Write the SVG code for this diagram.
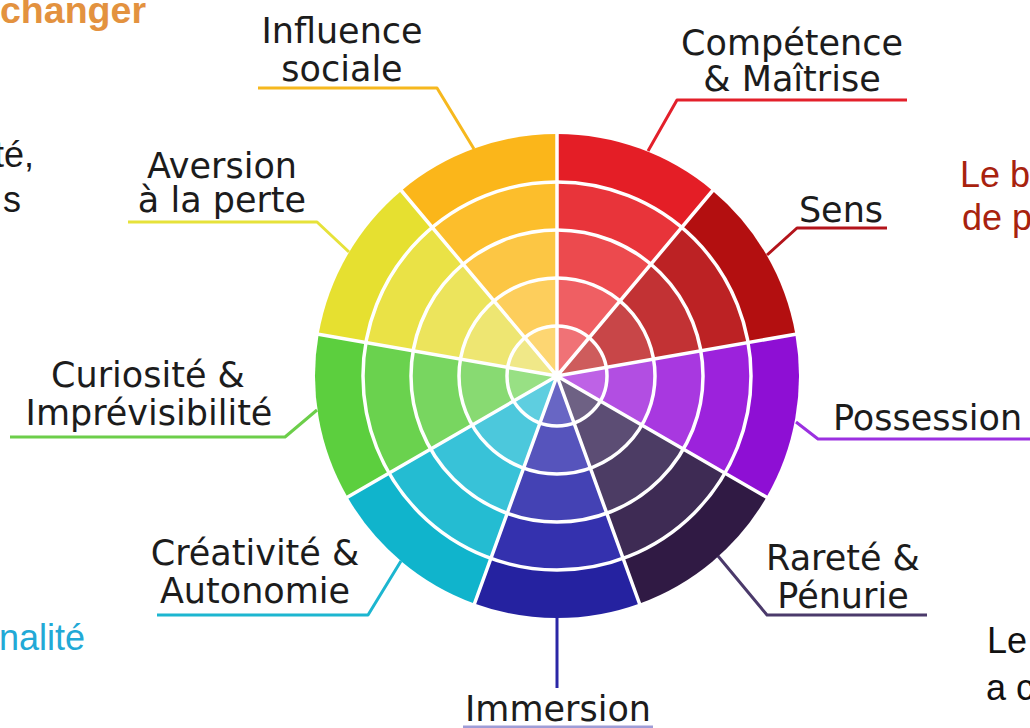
<svg xmlns="http://www.w3.org/2000/svg" width="1030" height="728" viewBox="0 0 1030 728">
<style>
.lbl{font-family:"DejaVu Sans","Liberation Sans",sans-serif;font-size:35px;fill:#1c1c1c;text-anchor:middle}
.side{font-family:"Liberation Sans",Arial,sans-serif;font-size:36px}
.con{fill:none;stroke-width:3;stroke-linejoin:round}
.sep{fill:none;stroke:#ffffff;stroke-width:3.5}
</style>
<rect width="1030" height="728" fill="#ffffff"/>

<g id="side-texts">
<text class="side" x="0" y="23" font-weight="bold" fill="#e3923f" font-size="32" textLength="146" lengthAdjust="spacingAndGlyphs">changer</text>
<text class="side" x="34" y="167" fill="#1a1a1a" text-anchor="end">té,</text>
<text class="side" x="21" y="212" fill="#1a1a1a" text-anchor="end">s</text>
<text class="side" x="-1" y="650" fill="#22a9d6" font-size="37">nalité</text>
<text class="side" x="960" y="187" fill="#a8220e">Le b</text>
<text class="side" x="962" y="230" fill="#a8220e">de p</text>
<text class="side" x="987" y="653" fill="#111111">Le</text>
<text class="side" x="986" y="700" fill="#111111">a c</text>
</g>

<g id="connectors">
<path class="con" stroke="#f6b81e" d="M258 88 H437 L474 149"/>
<path class="con" stroke="#e3202b" d="M907 100 H677 L648 151"/>
<path class="con" stroke="#b3141b" d="M887 228 H797 L767 255"/>
<path class="con" stroke="#9b30e0" d="M1032 439 H818 L796 422"/>
<path class="con" stroke="#4b3a6b" d="M927 615 H767 L718 556"/>
<path class="con" stroke="#2a26a6" d="M557 617 V688"/>
<path class="con" stroke="#2a26a6" stroke-opacity="0.45" d="M463 727 H653"/>
<path class="con" stroke="#1cb6d0" d="M157 615 H368 L401 561"/>
<path class="con" stroke="#6cce4a" d="M10 437 H285 L317 410"/>
<path class="con" stroke="#e6e23a" d="M128 222 H317 L349 252"/>
</g>

<g id="node-competence">
<path fill="#e41e26" d="M557 376 L557 134 A242 242 0 0 1 712.56 190.63 Z"/>
<path fill="#e8343a" d="M557 376 L557 182 A194 194 0 0 1 681.70 227.40 Z"/>
<path fill="#ec4a4e" d="M557 376 L557 230 A146 146 0 0 1 650.85 264.16 Z"/>
<path fill="#ef5f63" d="M557 376 L557 278 A98 98 0 0 1 620.00 300.93 Z"/>
<path fill="#f07276" d="M557 376 L557 326 A50 50 0 0 1 589.14 337.70 Z"/>
<text class="lbl" x="792" y="55">Compétence</text>
<text class="lbl" x="792" y="91">&amp; Maîtrise</text>
</g>

<g id="node-sens">
<path fill="#b30f10" d="M557 376 L712.56 190.63 A242 242 0 0 1 795.32 333.99 Z"/>
<path fill="#bc2224" d="M557 376 L681.70 227.40 A194 194 0 0 1 748.05 342.32 Z"/>
<path fill="#c23234" d="M557 376 L650.85 264.16 A146 146 0 0 1 700.78 350.65 Z"/>
<path fill="#c84648" d="M557 376 L620.00 300.93 A98 98 0 0 1 653.51 358.99 Z"/>
<path fill="#ce5c5c" d="M557 376 L589.14 337.70 A50 50 0 0 1 606.24 367.32 Z"/>
<text class="lbl" x="841" y="222">Sens</text>
</g>

<g id="node-possession">
<path fill="#8e0fd4" d="M557 376 L795.32 333.99 A242 242 0 0 1 766.57 497 Z"/>
<path fill="#9c22dc" d="M557 376 L748.05 342.32 A194 194 0 0 1 725.00 473 Z"/>
<path fill="#a838e0" d="M557 376 L700.78 350.65 A146 146 0 0 1 683.44 449 Z"/>
<path fill="#b24ee2" d="M557 376 L653.51 358.99 A98 98 0 0 1 641.87 425 Z"/>
<path fill="#be62e6" d="M557 376 L606.24 367.32 A50 50 0 0 1 600.30 401 Z"/>
<text class="lbl" x="833" y="430" style="text-anchor:start">Possession</text>
</g>

<g id="node-rarete">
<path fill="#301a44" d="M557 376 L766.57 497 A242 242 0 0 1 639.76 603.41 Z"/>
<path fill="#3e2b54" d="M557 376 L725.00 473 A194 194 0 0 1 623.35 558.30 Z"/>
<path fill="#4c3c64" d="M557 376 L683.44 449 A146 146 0 0 1 606.93 513.20 Z"/>
<path fill="#5c4d74" d="M557 376 L641.87 425 A98 98 0 0 1 590.52 468.09 Z"/>
<path fill="#6e6184" d="M557 376 L600.30 401 A50 50 0 0 1 574.10 422.99 Z"/>
<text class="lbl" x="843" y="570">Rareté &amp;</text>
<text class="lbl" x="843" y="608">Pénurie</text>
</g>

<g id="node-immersion">
<path fill="#2522a0" d="M557 376 L639.76 603.41 A242 242 0 0 1 474.24 603.41 Z"/>
<path fill="#3431ae" d="M557 376 L623.35 558.30 A194 194 0 0 1 490.65 558.30 Z"/>
<path fill="#4442b4" d="M557 376 L606.93 513.20 A146 146 0 0 1 507.07 513.20 Z"/>
<path fill="#5654bc" d="M557 376 L590.52 468.09 A98 98 0 0 1 523.48 468.09 Z"/>
<path fill="#6866c4" d="M557 376 L574.10 422.99 A50 50 0 0 1 539.90 422.99 Z"/>
<text class="lbl" x="558" y="721">Immersion</text>
</g>

<g id="node-creativite">
<path fill="#10b4cc" d="M557 376 L474.24 603.41 A242 242 0 0 1 347.43 497 Z"/>
<path fill="#24bcd2" d="M557 376 L490.65 558.30 A194 194 0 0 1 389.00 473 Z"/>
<path fill="#38c2d8" d="M557 376 L507.07 513.20 A146 146 0 0 1 430.56 449 Z"/>
<path fill="#4cc8dc" d="M557 376 L523.48 468.09 A98 98 0 0 1 472.13 425 Z"/>
<path fill="#5ecee0" d="M557 376 L539.90 422.99 A50 50 0 0 1 513.70 401 Z"/>
<text class="lbl" x="255" y="565">Créativité &amp;</text>
<text class="lbl" x="255" y="603">Autonomie</text>
</g>

<g id="node-curiosite">
<path fill="#5ccf3e" d="M557 376 L347.43 497 A242 242 0 0 1 318.68 333.99 Z"/>
<path fill="#6ad24e" d="M557 376 L389.00 473 A194 194 0 0 1 365.95 342.32 Z"/>
<path fill="#78d660" d="M557 376 L430.56 449 A146 146 0 0 1 413.22 350.65 Z"/>
<path fill="#88da72" d="M557 376 L472.13 425 A98 98 0 0 1 460.49 358.99 Z"/>
<path fill="#98e084" d="M557 376 L513.70 401 A50 50 0 0 1 507.76 367.32 Z"/>
<text class="lbl" x="148" y="387">Curiosité &amp;</text>
<text class="lbl" x="149" y="425">Imprévisibilité</text>
</g>

<g id="node-aversion">
<path fill="#e6e030" d="M557 376 L318.68 333.99 A242 242 0 0 1 401.44 190.63 Z"/>
<path fill="#eae246" d="M557 376 L365.95 342.32 A194 194 0 0 1 432.30 227.40 Z"/>
<path fill="#ece45c" d="M557 376 L413.22 350.65 A146 146 0 0 1 463.15 264.16 Z"/>
<path fill="#eee672" d="M557 376 L460.49 358.99 A98 98 0 0 1 494.00 300.93 Z"/>
<path fill="#f0e888" d="M557 376 L507.76 367.32 A50 50 0 0 1 524.86 337.70 Z"/>
<text class="lbl" x="222" y="178">Aversion</text>
<text class="lbl" x="222" y="212">à la perte</text>
</g>

<g id="node-influence">
<path fill="#fbb61a" d="M557 376 L401.44 190.63 A242 242 0 0 1 557 134 Z"/>
<path fill="#fcbe2c" d="M557 376 L432.30 227.40 A194 194 0 0 1 557 182 Z"/>
<path fill="#fcc644" d="M557 376 L463.15 264.16 A146 146 0 0 1 557 230 Z"/>
<path fill="#fdce5c" d="M557 376 L494.00 300.93 A98 98 0 0 1 557 278 Z"/>
<path fill="#fdd672" d="M557 376 L524.86 337.70 A50 50 0 0 1 557 326 Z"/>
<text class="lbl" x="342" y="43">Influence</text>
<text class="lbl" x="342" y="81">sociale</text>
</g>

<g id="separators">
<circle class="sep" cx="557" cy="376" r="50" stroke-width="3"/>
<circle class="sep" cx="557" cy="376" r="98" stroke-width="3"/>
<circle class="sep" cx="557" cy="376" r="146" stroke-width="3"/>
<circle class="sep" cx="557" cy="376" r="194" stroke-width="3"/>
<path class="sep" d="M557 376 L557 132 M557 376 L714 189 M557 376 L797 334 M557 376 L768 498 M557 376 L640 605 M557 376 L474 605 M557 376 L346 498 M557 376 L317 334 M557 376 L400 189"/>
</g>
</svg>
